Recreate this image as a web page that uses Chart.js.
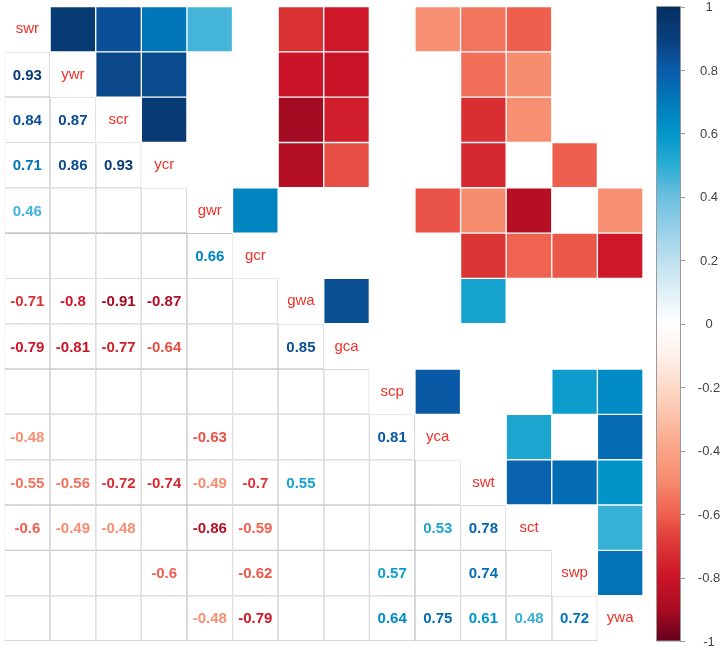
<!DOCTYPE html>
<html>
<head>
<meta charset="utf-8">
<script src="https://cdn.jsdelivr.net/npm/chart.js@4.4.1/dist/chart.umd.min.js"></script>
<style>
  body { margin: 0; background: #fff; }
  #wrap { width: 723px; height: 650px; }
</style>
</head>
<body>
<div id="wrap"><canvas id="c" width="723" height="650"></canvas></div>
<script>
// variable names, in matrix order
var vars = ["swr", "ywr", "scr", "ycr", "gwr", "gcr", "gwa", "gca", "scp", "yca", "swt", "sct", "swp", "ywa"];

// significant correlations, lower triangle, one row per variable (null = blank)
var rowYwr = [0.93];
var rowScr = [0.84, 0.87];
var rowYcr = [0.71, 0.86, 0.93];
var rowGwr = [0.46, null, null, null];
var rowGcr = [null, null, null, null, 0.66];
var rowGwa = [-0.71, -0.8, -0.91, -0.87, null, null];
var rowGca = [-0.79, -0.81, -0.77, -0.64, null, null, 0.85];
var rowScp = [null, null, null, null, null, null, null, null];
var rowYca = [-0.48, null, null, null, -0.63, null, null, null, 0.81];
var rowSwt = [-0.55, -0.56, -0.72, -0.74, -0.49, -0.7, 0.55, null, null, null];
var rowSct = [-0.6, -0.49, -0.48, null, -0.86, -0.59, null, null, null, 0.53, 0.78];
var rowSwp = [null, null, null, -0.6, null, -0.62, null, null, 0.57, null, 0.74, null];
var rowYwa = [null, null, null, null, -0.48, -0.79, null, null, 0.64, 0.75, 0.61, 0.48, 0.72];

var lower = [[], rowYwr, rowScr, rowYcr, rowGwr, rowGcr, rowGwa, rowGca, rowScp, rowYca, rowSwt, rowSct, rowSwp, rowYwa];

// colour legend
var legendTicks = [1, 0.8, 0.6, 0.4, 0.2, 0, -0.2, -0.4, -0.6, -0.8, -1];
var stopValues = [-1, -0.9, -0.8, -0.7, -0.6, -0.5, -0.4, -0.3, -0.2, -0.1, 0, 0.1, 0.2, 0.3, 0.4, 0.5, 0.6, 0.7, 0.8, 0.9, 1];
var stopColors = ["#67001f", "#a80c22", "#cc1428", "#dc3535", "#ef5f4e", "#f68a6d", "#faa385", "#fbbfa5", "#fddac8", "#fef0ea", "#ffffff",
                  "#e0f0f7", "#bde0ef", "#96d0e8", "#6cbfe0", "#2aacd3", "#0097ca", "#0079ba", "#0a5caa", "#0a3f7c", "#053061"];

function hexRgb(h) {
  return [parseInt(h.substr(1, 2), 16), parseInt(h.substr(3, 2), 16), parseInt(h.substr(5, 2), 16)];
}
function colorFor(v) {
  for (var k = 0; k < stopValues.length - 1; k++) {
    if (v <= stopValues[k + 1]) {
      var t = (v - stopValues[k]) / (stopValues[k + 1] - stopValues[k]);
      var a = hexRgb(stopColors[k]), b = hexRgb(stopColors[k + 1]);
      return "rgb(" + Math.round(a[0] + (b[0] - a[0]) * t) + "," +
        Math.round(a[1] + (b[1] - a[1]) * t) + "," +
        Math.round(a[2] + (b[2] - a[2]) * t) + ")";
    }
  }
  return stopColors[stopColors.length - 1];
}

// build cells
var upperCells = [];
var gridCells = [];
for (var i = 0; i < lower.length; i++) {
  for (var j = 0; j < lower[i].length; j++) {
    gridCells.push({ x: vars[j], y: [i, i + 1] });
    var v = lower[i][j];
    if (v !== null) {
      // mirror into the upper triangle: row j, column i
      upperCells.push({ x: vars[i], y: [j, j + 1], v: v });
    }
  }
}

var labelsPlugin = {
  id: "corrLabels",
  afterDatasetsDraw: function(chart) {
    var ctx = chart.ctx;
    var xs = chart.scales.x, ys = chart.scales.y;
    ctx.save();
    ctx.textAlign = "center";
    ctx.textBaseline = "middle";
    ctx.font = "bold 15px 'Liberation Sans', Arial, sans-serif";
    for (var i = 0; i < lower.length; i++) {
      for (var j = 0; j < lower[i].length; j++) {
        var v = lower[i][j];
        if (v === null) continue;
        ctx.fillStyle = colorFor(v);
        ctx.fillText(String(v), xs.getPixelForValue(j), ys.getPixelForValue(i + 0.5) + 1);
      }
    }
    ctx.font = "15px 'Liberation Sans', Arial, sans-serif";
    ctx.fillStyle = "#f0302a";
    for (var d = 0; d < vars.length; d++) {
      ctx.fillText(vars[d], xs.getPixelForValue(d), ys.getPixelForValue(d + 0.5));
    }

    // colour bar
    var cs = chart.scales.cbar;
    var area = chart.chartArea;
    var x0 = area.right + 13, w = 24;
    var top = cs.getPixelForValue(1), bottom = cs.getPixelForValue(-1);
    var grad = ctx.createLinearGradient(0, bottom, 0, top);
    for (var k = 0; k < stopValues.length; k++) {
      grad.addColorStop((stopValues[k] + 1) / 2, stopColors[k]);
    }
    ctx.fillStyle = grad;
    ctx.fillRect(x0, top, w, bottom - top);
    ctx.strokeStyle = "#9a9a9a";
    ctx.lineWidth = 1;
    ctx.strokeRect(x0 + 0.5, top, w, bottom - top);
    ctx.font = "13px 'Liberation Sans', Arial, sans-serif";
    ctx.fillStyle = "#444";
    ctx.textAlign = "center";
    legendTicks.forEach(function(t) {
      var py = cs.getPixelForValue(t);
      ctx.beginPath();
      ctx.moveTo(x0 + w, Math.round(py) + 0.5);
      ctx.lineTo(x0 + w + 5, Math.round(py) + 0.5);
      ctx.stroke();
      ctx.fillText(String(t), x0 + w + 29, py + 1);
    });
    ctx.restore();
  }
};

var ctx = document.getElementById("c").getContext("2d");
new Chart(ctx, {
  type: "bar",
  data: {
    labels: vars,
    datasets: [
      {
        label: "grid",
        data: gridCells,
        backgroundColor: "rgba(0,0,0,0)",
        borderColor: "#b4b4b4",
        borderWidth: 0.55,
        borderSkipped: false,
        inflateAmount: 0,
        grouped: false,
        barPercentage: 1,
        categoryPercentage: 1
      },
      {
        label: "upper",
        data: upperCells,
        backgroundColor: function(c) {
          return c.raw ? colorFor(c.raw.v) : "#fff";
        },
        borderColor: "#ffffff",
        borderWidth: 1,
        borderSkipped: false,
        grouped: false,
        barPercentage: 1,
        categoryPercentage: 1
      }
    ]
  },
  options: {
    responsive: false,
    animation: false,
    devicePixelRatio: 1,
    layout: { padding: { left: 4.5, top: 6.5, right: 80, bottom: 9 } },
    plugins: {
      legend: { display: false },
      tooltip: { enabled: false }
    },
    scales: {
      x: { type: "category", display: false, offset: true },
      y: { type: "linear", min: 0, max: 14, reverse: true, display: false },
      cbar: { type: "linear", min: -1, max: 1, display: false, position: "right" }
    }
  },
  plugins: [labelsPlugin]
});
</script>
</body>
</html>
